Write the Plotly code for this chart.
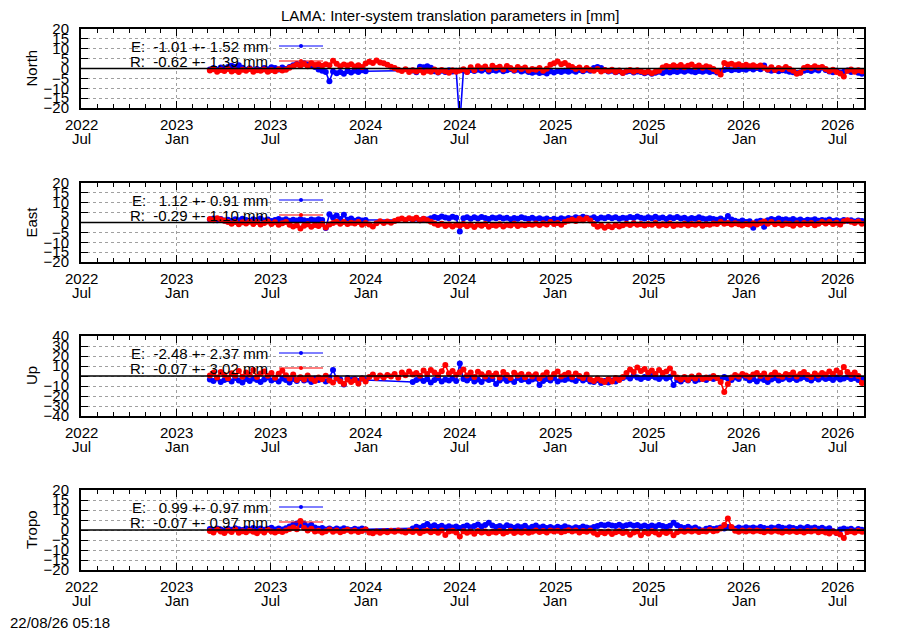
import pandas as pd
import plotly.graph_objects as go

# --- values (weekly samples in mm, first sample 2023-03-06)
start_date = "2023-03-06"
panel_names = ["North", "East", "Up", "Tropo"]
y_limits = [20, 20, 40, 20]
y_steps = [5, 5, 10, 5]

e_mean = [-1.01, 1.12, -2.48, 0.99]
e_sigma = [1.52, 0.91, 2.37, 0.97]
r_mean = [-0.62, -0.29, -0.07, -0.07]
r_sigma = [1.39, 1.10, 3.02, 0.97]

tick_dates = ["2022-07-01", "2023-01-01", "2023-07-01", "2024-01-01", "2024-07-01",
              "2025-01-01", "2025-07-01", "2026-01-01", "2026-07-01"]
tick_years = ["2022", "2023", "2023", "2024", "2024", "2025", "2025", "2026", "2026"]
tick_months = ["Jul", "Jan", "Jul", "Jan", "Jul", "Jan", "Jul", "Jan", "Jul"]

north_e = [-0.5, 0.2, -0.8, 0.5, -0.3, 0.8, 1.4, 0.9, 1.6, 0.4,
           -0.6, 0.1, -0.9, -0.2, -0.7, 0.3, -0.4, 0.6, 0.2, -0.5,
           0.5, -0.3, 0.8, 1.6, 2.3, 1.8, 2.6, 2.0, 1.5, 0.8,
           -0.5, -1.2, -1.8, -6.5, -1.5, -2.4, -1.8, -2.6, -1.3, -2.0,
           -1.1, -1.8, -0.9, -1.4, None, None, None, None, None, None,
           None, None, None, None, None, None, -1.0, -1.9, 0.9, 0.6,
           1.2, 0.4, -1.4, -2.0, -1.2, -1.8, -0.9, -1.5, -1.1, -28.0,
           -1.0, -1.6, -0.7, -1.3, -0.6, -1.1, -0.4, -1.5, -0.8, -1.2,
           -0.5, -1.4, -0.9, -0.3, -1.2, -0.6, -1.5, -1.0, -1.8, -2.1,
           -1.6, -2.3, -1.9, -2.5, -1.4, -2.0, -1.3, -1.8, -1.1, -1.6,
           -1.0, -1.7, -0.8, -1.4, -0.6, -1.2, 0.3, 0.8, 0.2, -0.9,
           -1.5, -1.1, -1.9, -1.4, -2.2, -1.6, -1.3, -2.0, -1.5, -1.8,
           -2.4, -1.9, -2.6, -2.1, -1.7, -2.3, -1.5, -2.0, -1.4, -1.8,
           -1.2, -1.7, -1.0, -1.5, -1.9, -1.3, -1.6, -1.1, -1.8, -1.4,
           -2.0, -1.5, -0.8, -0.3, -0.9, -0.4, -0.7, -0.2, -0.6, 0.1,
           -0.5, 0.2, -0.4, 1.5, -0.6, -1.2, -0.8, -1.4, -0.9, -1.1,
           -1.6, -1.9, -2.3, -2.0, -1.2, -0.7, -1.3, -0.5, -1.0, 0.4,
           -0.8, -1.5, -1.9, -1.2, -2.0, -1.6, -1.0, -1.8, -1.3, -2.2, -2.6]
north_r = [-1.0, -0.4, -1.6, -0.8, -1.3, -0.2, -1.5, -0.9, -1.8, -0.6,
           -1.2, -0.3, -1.7, -0.9, -1.1, -0.5, -1.6, -0.7, -1.4, -0.4,
           -1.0, -0.6, 0.4, 1.2, 2.0, 1.5, 2.3, 1.1, 2.6, 1.8,
           2.2, 1.4, 2.1, 1.6, 3.9, 2.4, 1.2, 2.0, 1.5, 2.2,
           1.0, 1.7, 0.8, 2.5, 3.4, 2.8, 4.0, 3.1, 2.6, 1.9,
           0.9, 0.2, -0.6, -1.3, -0.4, -1.8, -0.9, -1.5, -0.7, -2.0,
           -1.1, -1.6, -0.5, -1.9, -0.8, -1.4, -2.2, -0.9, -1.6, -1.0,
           -0.4, -1.8, 0.6, -0.9, 1.2, 0.1, 1.0, -0.6, 1.4, 0.3,
           0.9, -0.5, 1.3, 0.2, -0.8, 0.8, -0.3, 0.5, -1.0, -0.2,
           -0.6, 0.3, -1.2, -0.1, 1.9, 2.6, 3.5, 2.2, 2.8, 1.5,
           0.8, -0.3, 0.5, -0.9, 0.2, -0.6, -1.1, -0.2, -1.5, -0.8,
           -1.3, -0.6, -1.8, -1.0, -2.3, -1.2, -0.7, -1.6, -0.9, -1.4,
           -2.0, -1.5, -2.4, -1.7, -1.1, 0.5, 1.3, 0.7, 1.6, 0.9,
           1.8, 0.6, 1.4, 2.0, 0.8, 1.5, 0.4, 1.2, 0.6, -0.2,
           -1.5, -3.0, 2.8, 2.0, 2.4, 1.6, 2.2, 1.3, 1.9, 1.1,
           1.7, 0.9, 1.5, 0.4, -0.5, 0.6, -0.8, 0.2, -0.4, 0.7,
           -0.3, -1.2, -2.6, -2.2, 0.3, 0.9, 0.2, 1.1, 0.4, 0.8,
           -0.2, -1.3, -0.6, -1.8, -2.5, -4.0, -1.2, -0.5, -1.7, -0.9, -1.4]

east_e = [1.5, 2.0, 1.2, 1.8, 1.0, 1.4, 0.8, 1.6, 1.1, 1.9,
          1.3, 0.9, 1.7, 1.2, 2.0, 1.0, 1.5, 0.7, 1.3, 1.8,
          1.1, 1.6, 0.9, 1.4, 1.0, 1.7, 1.2, 0.8, 1.5, 1.1,
          1.6, 1.3, -2.8, 4.2, 2.5, 3.6, 1.8, 3.9, 1.4, 2.0,
          0.9, 1.5, 1.0, 1.3, None, None, None, None, None, None,
          None, None, None, None, None, None, 1.4, 2.0, 1.2, 1.8,
          1.5, 2.2, 2.8, 2.3, 3.0, 2.5, 2.1, 2.9, 2.4, -4.5,
          2.2, 2.7, 1.9, 2.6, 2.0, 2.8, 2.3, 1.8, 2.5, 2.1,
          2.7, 2.0, 2.4, 1.7, 2.3, 1.9, 2.6, 2.1, 1.8, 2.4,
          1.6, 2.2, 1.5, 2.0, 1.3, 1.9, 1.4, 2.1, 1.6, 2.3,
          1.9, 2.6, 2.2, 2.9, 2.4, 2.0, 2.7, 1.8, 2.5, 2.1,
          2.8, 2.2, 2.6, 1.9, 2.4, 2.1, 2.8, 2.3, 3.0, 2.4,
          2.0, 2.7, 2.2, 2.9, 2.1, 2.5, 1.8, 2.6, 2.2, 2.8,
          2.0, 2.4, 1.7, 2.3, 1.9, 2.6, 2.0, 1.6, 2.2, 1.8,
          1.4, 2.0, 1.2, 3.3, 1.5, 0.9, 0.4, 1.0, 0.2, 0.6,
          -2.6, 0.5, 0.9, -2.2, 1.1, 1.8, 1.3, 2.0, 1.4, 1.7,
          1.2, 1.8, 1.0, 1.5, 0.8, 1.4, 1.1, 1.7, 0.9, 1.3,
          1.0, 1.5, 0.7, 1.2, 0.6, 1.3, 0.9, 1.1, 0.5, 1.0, 0.8]
east_r = [1.8, 1.2, 2.2, 1.5, 0.9, 0.2, -0.6, 0.3, -0.9, 0.1,
          -0.5, 0.4, -0.8, 0.2, -1.0, -0.3, 0.5, -0.7, 0.1, -1.1,
          -0.4, 0.2, -1.2, -2.0, -1.4, -3.0, -1.6, -0.9, -2.2, -1.3,
          -1.8, -0.8, -2.5, -1.0, -0.2, 0.4, -0.6, 0.2, -0.8, -0.1,
          -0.5, 0.3, -1.2, -0.3, -1.0, -2.0, -0.4, 0.6, -0.2, 0.5,
          -0.1, 0.8, 1.5, 2.0, 1.3, 2.2, 1.6, 2.4, 1.2, 1.9,
          1.1, 0.4, -0.5, -1.3, -0.6, -1.8, -1.0, -2.0, -1.2, -1.6,
          -0.7, -1.9, -1.1, -2.3, -1.0, -1.6, -0.8, -2.1, -1.3, -1.7,
          -0.9, -2.0, -1.2, -1.5, -0.6, -1.8, -1.0, -1.4, -0.7, -1.2,
          -0.5, -1.3, -0.4, -1.0, 0.2, -0.8, -0.3, -1.1, 0.3, 0.9,
          1.5, 0.8, 1.9, 1.2, 2.1, 1.0, -0.8, -2.2, -1.5, -2.6,
          -1.8, -2.4, -1.3, -2.0, -1.4, -0.6, -1.3, -0.4, -1.1, -0.7,
          -1.5, -0.8, -1.2, -0.3, -1.6, -0.9, -1.4, -0.5, -1.8, -1.0,
          -1.3, -0.6, -1.5, -0.8, -1.1, -0.4, -1.7, -0.9, -1.2, -0.5,
          -0.8, 0.2, -0.6, -0.2, -1.0, -0.4, -0.9, -1.5, -0.7, -1.2,
          -0.4, -1.0, -0.3, 0.5, -0.6, 0.3, -0.9, -0.2, -1.3, -0.5,
          -0.8, -1.6, -0.4, -1.1, -0.2, -0.9, -0.3, -1.4, -0.6, 0.2,
          -0.5, 0.3, -0.7, -0.1, -1.0, 0.6, 1.1, 0.4, -0.3, 0.5, -0.6]

up_e = [-3.5, -5.0, -2.5, -6.0, -4.0, -3.0, -5.5, -2.0, -4.5, -6.5,
        -3.0, -5.0, -2.5, -4.0, -6.0, -3.5, -1.5, -4.5, -3.0, -5.5,
        -2.5, -4.0, -6.5, -3.0, -5.0, -2.0, -4.5, -3.5, -6.0, -2.5,
        -4.0, -3.0, -5.5, -1.5, 6.0, -2.5, -3.5, -8.5, -2.0, -4.0,
        -3.0, -5.0, -2.5, -4.0, None, None, None, None, None, None,
        None, None, None, None, None, None, -6.0, -4.0, -2.5, -5.0,
        -3.0, -6.5, -4.0, -2.0, -5.5, -3.5, -4.5, -2.5, -5.0, 12.5,
        -3.0, -4.5, -2.0, -5.5, -3.5, -6.0, -2.5, -4.0, -3.0, -8.0,
        -4.5, -2.5, -5.0, -3.5, -6.0, -2.0, -4.0, -3.0, -5.5, -3.5,
        -2.5, -9.0, -5.0, -3.0, -4.5, -2.0, -5.5, -3.5, -4.0, -2.5,
        -3.5, -5.0, -2.0, -4.5, -3.0, -5.5, -6.0, -4.0, -7.0, -5.0,
        -6.5, -4.5, -5.5, -3.0, -2.0, -0.5, -2.5, 0.5, -1.5, -3.0,
        -1.0, -2.0, 0.0, -1.5, -3.0, -0.5, -2.5, -1.0, -9.0, -4.0,
        -5.5, -3.0, -4.5, -2.0, -5.0, -3.5, -2.5, -4.0, -1.5, -3.0,
        -2.0, -3.5, -1.0, -2.5, -4.0, -1.5, -3.0, 0.5, -2.0, -4.5,
        -3.0, -5.5, -2.5, -4.0, -6.0, -3.5, -2.0, -4.5, -3.0, -1.5,
        -3.5, -2.0, -4.0, -2.5, -1.0, -3.0, -4.5, -2.0, -3.5, -1.5,
        -3.0, -2.0, -4.0, -1.5, -3.5, -2.5, -1.0, -3.0, -2.0, -4.0, -3.5]
up_r = [0.5, 3.2, -1.5, 4.0, 1.0, -2.2, 2.8, 0.2, 5.1, -0.8,
        3.5, 1.2, 6.0, -1.0, 2.6, 4.4, 0.3, 3.0, -1.8, 2.2,
        5.2, 0.8, -2.5, 1.5, -4.0, -1.2, -3.5, 0.5, -2.8, -5.0,
        -1.5, -3.2, 0.2, -4.5, -6.5, -2.0, -5.2, -8.0, -3.5, -6.0,
        -4.0, -7.5, -2.5, -5.5, -1.0, 1.5, -2.0, 0.5, -1.5, 1.0,
        -0.5, 2.0, -1.8, 3.5, 0.8, 4.5, 1.5, 3.0, 0.2, 5.5,
        2.0, 6.0, 3.5, 1.0, 4.8, 11.0, 2.5, 5.0, 1.2, 3.8,
        6.5, 0.5, 3.5, -1.0, 4.2, 1.8, -0.5, 3.0, 0.0, 2.5,
        -1.5, 4.0, 1.0, -2.0, 3.2, 0.5, 2.0, -1.2, 1.5, -0.5,
        1.8, -2.5, 0.8, 3.5, -1.5, 2.0, 4.5, -0.5, 1.2, 3.0,
        -1.0, 2.5, 0.0, -2.0, 1.5, -3.5, -5.0, -2.5, -4.5, -6.0,
        -3.0, -5.5, -2.0, -4.0, -1.0, 3.0, 6.5, 4.0, 8.5, 5.0,
        7.0, 3.5, 5.5, 2.0, 6.0, 3.0, 4.5, 7.5, 2.5, -1.5,
        -3.5, -1.0, -4.0, -0.5, -2.5, 0.5, -3.0, -1.5, -2.0, 0.0,
        -2.0, -6.0, -16.0, -8.0, -1.5, 1.0, -0.5, 2.0, 0.5, -1.0,
        1.5, 3.0, 0.0, 2.5, -1.5, 1.0, 3.5, 0.5, -0.8, 2.0,
        1.0, 3.5, -0.5, 2.0, 4.0, 1.0, -1.0, 2.5, 0.5, 3.0,
        1.5, 4.5, 2.0, 5.5, 3.0, 9.0, 4.0, 1.0, 3.5, 0.0, -7.0]

tropo_e = [0.5, 0.0, 0.8, 0.3, -0.2, 0.6, 0.1, 0.9, 0.4, 0.0,
           0.7, 0.2, 1.0, 0.4, 0.8, 0.1, 0.6, 1.1, 0.3, 0.7,
           0.2, 0.9, 1.8, 2.6, 3.2, 2.4, 3.0, 1.9, 2.5, 1.2,
           0.6, 1.0, 0.3, 0.8, 0.1, 0.7, 0.2, 0.9, 0.4, 0.0,
           0.6, 0.2, 0.8, 0.3, None, None, None, None, None, None,
           None, None, None, None, None, None, 0.8, 1.6, 1.1, 2.0,
           3.0, 1.8, 2.4, 1.5, 2.1, 1.3, 1.9, 1.2, 1.7, 1.0,
           1.6, 2.2, 1.4, 2.0, 2.7, 1.8, 2.5, 3.6, 2.2, 1.5,
           2.0, 1.3, 2.4, 1.7, 1.1, 1.9, 1.4, 2.1, 0.9, 1.6,
           2.2, 1.2, 1.8, 1.0, 1.5, 0.9, 1.6, 1.1, 1.9, 1.3,
           0.8, 1.4, 1.0, 1.7, 1.2, 0.9, 1.5, 2.0, 2.6, 2.2,
           2.8, 2.3, 2.0, 2.6, 1.9, 2.4, 2.8, 2.1, 2.5, 1.8,
           2.3, 1.6, 2.2, 1.7, 2.5, 2.0, 1.5, 2.1, 3.6, 2.4,
           1.5, 1.0, 1.6, 0.8, 1.2, 0.4, -0.3, 0.6, 1.0, 0.5,
           0.9, 1.3, 0.8, 1.5, 1.1, 0.6, 1.2, 0.7, 1.4, 0.9,
           1.3, 0.8, 1.5, 1.0, 0.6, 1.2, 0.9, 1.6, 1.1, 0.7,
           1.4, 1.0, 0.5, 1.2, 0.8, 1.5, 0.9, 1.3, 0.6, 1.1,
           0.4, 0.9, -0.5, -1.5, 0.3, 0.8, 0.2, 0.6, -0.2, 0.5, 0.1]
tropo_r = [-0.5, -1.2, 0.2, -0.8, -1.5, -0.3, -1.0, 0.3, -1.4, -0.6,
           -1.1, -0.2, -0.9, -1.6, -0.4, -1.2, 0.1, -0.8, -1.3, -0.5,
           -1.0, -0.2, 0.5, 1.2, 0.4, 4.5, 1.0, -0.3, 0.6, -0.8,
           -0.4, -1.2, -0.6, 0.2, -0.9, -0.3, -1.1, -0.5, 0.1, -0.8,
           -0.3, -1.0, -0.5, 0.2, -1.2, -1.6, -0.8, -1.4, -0.6, -1.1,
           -0.4, -0.9, -0.2, -0.7, -1.3, -0.4, -1.0, -0.3, -1.5, -0.6,
           -0.2, -1.1, -0.5, -1.4, -0.3, -2.5, -0.8, -0.4, -1.2, -3.3,
           -0.6, -1.4, -0.8, -1.9, -0.5, -1.2, -0.7, -1.6, -0.9, -1.3,
           -0.5, -1.8, -1.0, -0.4, -1.5, -0.8, -1.2, -0.6, -1.4, -0.9,
           -0.3, -1.0, -0.5, -1.3, -0.2, -0.8, -0.4, -1.1, -0.6, -0.1,
           -0.7, -0.3, -1.2, -0.5, -0.9, -0.2, -1.4, -2.3, -1.0, -1.6,
           -0.8, -2.0, -1.1, -0.6, -1.5, -0.9, -2.4, -1.2, -0.7, -2.6,
           -1.0, -1.8, -0.6, -1.3, -2.2, -0.9, -1.5, -0.7, -2.6, -1.1,
           -0.4, -0.9, -0.3, -0.7, -0.2, -1.0, -0.5, -0.8, 0.1, -0.6,
           -0.3, 0.8, 2.5, 5.8, 1.5, -0.4, -0.9, -0.2, -0.7, -0.3,
           -0.8, -0.2, -0.6, -1.1, -0.4, -0.9, -0.3, -0.7, -1.2, -0.5,
           -0.9, -0.4, -1.0, -0.6, -1.3, -0.5, -0.8, -0.3, -1.1, -0.6,
           -1.2, -1.8, -0.8, -1.5, -2.2, -4.0, -1.0, -0.6, -1.3, -0.4, -0.9]

e_series = [north_e, east_e, up_e, tropo_e]
r_series = [north_r, east_r, up_r, tropo_r]

# --- page geometry: target pixels of the 900x630 window; the page body adds an 8px margin,
# so the figure is drawn 8px smaller and every position is taken back by that offset
OFF = 8
W, H = 900 - OFF, 630 - OFF
left_px, right_px = 81, 864
panel_px = [(29, 108), (183, 262), (336, 416), (490, 570)]
font = "Liberation Sans, Arial, sans-serif"
nbsp = "\u00a0"
txt = dict(size=15, color="black", family=font)


def px_x(x):
    return (x - OFF) / W


def px_y(y):
    return 1 - (y - OFF) / H


fig = go.Figure()
shapes = []
annotations = []

for k in range(4):
    n = "" if k == 0 else str(k + 1)
    top, bottom = panel_px[k]
    lim = y_limits[k]

    # blue first, red drawn on top
    for vals, color in [(e_series[k], "#0000ff"), (r_series[k], "#ff0000")]:
        dates = pd.date_range(start_date, periods=len(vals), freq="7D")
        fig.add_trace(go.Scatter(
            x=dates, y=vals, mode="lines+markers", connectgaps=True,
            line=dict(color=color, width=1.6),
            marker=dict(color=color, size=6),
            xaxis="x" + n, yaxis="y" + n, showlegend=False,
        ))

    fig.layout["xaxis" + n] = dict(
        domain=[px_x(left_px), px_x(right_px)], anchor="y" + n, type="date",
        range=["2022-06-30", "2026-08-21"],
        tickmode="array", tickvals=tick_dates, showticklabels=False,
        ticks="inside", ticklen=7, tickwidth=1, tickcolor="black",
        minor=dict(ticks="inside", ticklen=4, tickcolor="black", dtick="M1",
                   tick0="2022-07-01", showgrid=False),
        showline=True, linecolor="black", linewidth=2, mirror="allticks",
        showgrid=True, gridcolor="#a0a0a0", griddash="dot", gridwidth=1,
        zeroline=False, automargin=False,
    )
    fig.layout["yaxis" + n] = dict(
        domain=[px_y(bottom), px_y(top)], anchor="x" + n,
        range=[-lim, lim], tickmode="linear", tick0=0, dtick=y_steps[k],
        ticks="inside", ticklen=7, tickwidth=1, tickcolor="black",
        showline=True, linecolor="black", linewidth=2, mirror="allticks",
        showgrid=True, gridcolor="#a0a0a0", griddash="dot", gridwidth=1,
        zeroline=False, tickfont=txt, ticklabelstandoff=7, automargin=False,
    )

    # opaque key area, leaving the lowest grid line visible
    for y0, y1 in [(0.135, 1.0), (0.0, 0.115)]:
        shapes.append(dict(type="rect", xref="paper", yref="y" + n + " domain",
                           x0=px_x(82), x1=px_x(330), y0=y0, y1=y1,
                           fillcolor="white", line=dict(width=0), layer="between"))
    # zero line over the data
    shapes.append(dict(type="line", xref="x" + n + " domain", yref="y" + n,
                       x0=0, x1=1, y0=0, y1=0,
                       line=dict(color="black", width=1.5), layer="above"))

    # key entries
    rows = [("E:", e_mean[k], e_sigma[k], "#0000ff"), ("R:", r_mean[k], r_sigma[k], "#ff0000")]
    for j, (tag, m, s, color) in enumerate(rows):
        ky = top + 17 + 15 * j
        label = f"{tag} {m:6.2f} +- {s:.2f} mm".replace(" ", nbsp)
        annotations.append(dict(text=label, xref="paper", yref="paper", x=px_x(270), y=px_y(ky),
                                xanchor="right", yanchor="middle", showarrow=False, font=txt))
        shapes.append(dict(type="line", xref="paper", yref="paper",
                           x0=px_x(279), x1=px_x(323), y0=px_y(ky), y1=px_y(ky),
                           line=dict(color=color, width=1.2), layer="above"))
        shapes.append(dict(type="circle", xref="paper", yref="paper",
                           x0=px_x(299), x1=px_x(303), y0=px_y(ky + 2), y1=px_y(ky - 2),
                           fillcolor=color, line=dict(width=0), layer="above"))

    # two-line date labels under each major tick
    for d, yr, mon in zip(tick_dates, tick_years, tick_months):
        for label, off in [(yr, 16), (mon, 30)]:
            annotations.append(dict(text=label, xref="x" + n, yref="paper", x=d,
                                    y=px_y(bottom + off), xanchor="center",
                                    yanchor="middle", showarrow=False, font=txt))

    # panel name
    annotations.append(dict(text=panel_names[k], xref="paper", yref="paper",
                            x=px_x(31), y=px_y((top + bottom) / 2), textangle=-90,
                            xanchor="center", yanchor="middle", showarrow=False, font=txt))

annotations.append(dict(text="22/08/26 05:18", xref="paper", yref="paper",
                        x=px_x(8), y=px_y(622), xanchor="left", yanchor="middle",
                        showarrow=False, font=txt))
annotations.append(dict(text="LAMA: Inter-system translation parameters in [mm]",
                        xref="paper", yref="paper", x=px_x(450), y=px_y(16),
                        xanchor="center", yanchor="middle", showarrow=False, font=txt))

fig.update_layout(
    width=W, height=H,
    margin=dict(l=0, r=0, t=0, b=0, pad=0, autoexpand=False),
    paper_bgcolor="white", plot_bgcolor="white",
    font=txt,
    shapes=shapes, annotations=annotations,
    showlegend=False,
)

fig.write_html("out.html")
